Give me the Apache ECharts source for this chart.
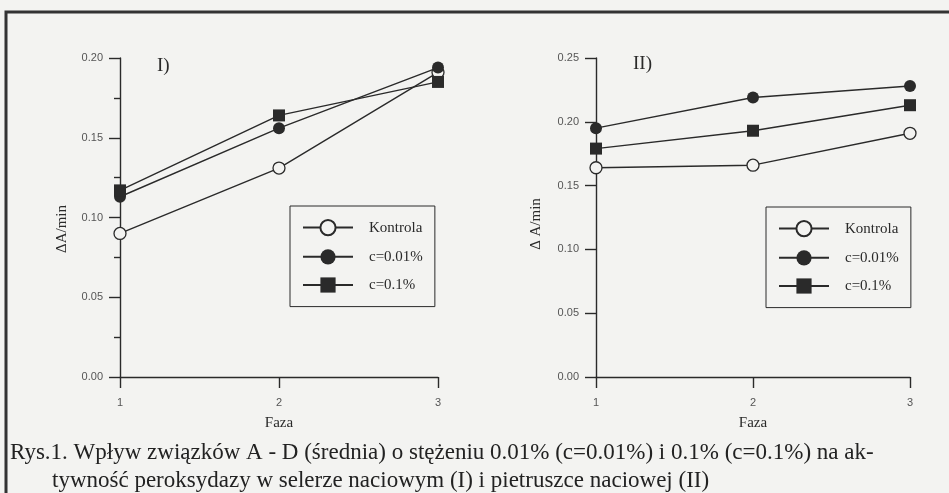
<!DOCTYPE html>
<html><head><meta charset="utf-8">
<script src="https://cdn.jsdelivr.net/npm/echarts@6/dist/echarts.min.js"></script>
<style>html,body{margin:0;padding:0;background:#f3f3f1}#c{width:949px;height:493px}</style>
</head><body><div id="c"></div>
<script>
const phases = [1, 2, 3];
const seriesNames = ['Kontrola', 'c=0.01%', 'c=0.1%'];
// Panel I – seler naciowy
const celeryKontrola = [0.090, 0.131, 0.191];
const celeryC001 = [0.113, 0.156, 0.194];
const celeryC01 = [0.117, 0.164, 0.185];
// Panel II – pietruszka naciowa
const parsleyKontrola = [0.164, 0.166, 0.191];
const parsleyC001 = [0.195, 0.219, 0.228];
const parsleyC01 = [0.179, 0.193, 0.213];
const panelLabels = ['I)', 'II)'];
const yLabel = ['ΔA/min', 'Δ A/min'];
const xLabel = 'Faza';
const caption1 = 'Rys.1. Wpływ związków A - D (średnia) o stężeniu 0.01% (c=0.01%) i 0.1% (c=0.1%) na ak-';
const caption2 = 'tywność peroksydazy w selerze naciowym (I) i pietruszce naciowej (II)';

const ink = '#2a2a2a';
const bg = '#f3f3f1';
const serif = '"Liberation Serif", "DejaVu Serif", serif';
const sans = '"Liberation Sans", Arial, sans-serif';

function pairs(vals) { return phases.map((p, i) => [p, vals[i]]); }

function mkSeries(name, vals, idx) {
  const open = name === 'Kontrola';
  return {
    name: name, type: 'line', xAxisIndex: idx, yAxisIndex: idx,
    data: pairs(vals),
    symbol: name === 'c=0.1%' ? 'rect' : 'circle',
    symbolSize: 12,
    showAllSymbol: true,
    lineStyle: { color: ink, width: 1.4 },
    itemStyle: { color: open ? bg : ink, borderColor: ink, borderWidth: open ? 1.3 : 0 },
    emphasis: { disabled: true },
    animation: false
  };
}

function mkX(idx) {
  return {
    type: 'value', gridIndex: idx, min: 1, max: 3, interval: 1,
    name: xLabel, nameLocation: 'middle', nameGap: 39,
    nameTextStyle: { fontFamily: serif, fontSize: 15, color: ink },
    axisLine: { lineStyle: { color: ink, width: 1.4 } },
    axisTick: { show: true, inside: false, length: 11, lineStyle: { color: ink, width: 1.4 } },
    axisLabel: { fontFamily: sans, fontSize: 11, color: '#555', margin: 20 },
    splitLine: { show: false }
  };
}

function mkY(idx, max, minor) {
  return {
    type: 'value', gridIndex: idx, min: 0, max: max, interval: 0.05,
    axisLine: { show: true, lineStyle: { color: ink, width: 1.4 } },
    axisTick: { show: true, inside: false, length: 11, lineStyle: { color: ink, width: 1.4 } },
    minorTick: { show: minor, splitNumber: 2, length: 6, lineStyle: { color: ink, width: 1.4 } },
    axisLabel: { fontFamily: sans, fontSize: 11, color: '#555', margin: 17, formatter: v => v.toFixed(2) },
    splitLine: { show: false }
  };
}

function mkLegend(left, top) {
  return {
    orient: 'vertical', left: left, top: top,
    data: seriesNames,
    itemWidth: 50, itemHeight: 19, itemGap: 13,
    padding: [13, 12, 14, 12],
    borderColor: ink, borderWidth: 1,
    textStyle: { fontFamily: serif, fontSize: 15, color: ink, padding: [0, 0, 0, 11] },
    selectedMode: false
  };
}

const chart = echarts.init(document.getElementById('c'), null, { renderer: 'canvas' });
chart.setOption({
  backgroundColor: bg,
  animation: false,
  grid: [
    { left: 120, top: 58, width: 318, height: 319 },
    { left: 596, top: 58, width: 314, height: 319 }
  ],
  xAxis: [mkX(0), mkX(1)],
  yAxis: [mkY(0, 0.2, true), mkY(1, 0.25, false)],
  legend: [mkLegend(290, 206), mkLegend(766, 207)],
  series: [
    mkSeries(seriesNames[0], celeryKontrola, 0),
    mkSeries(seriesNames[1], celeryC001, 0),
    mkSeries(seriesNames[2], celeryC01, 0),
    mkSeries(seriesNames[0], parsleyKontrola, 1),
    mkSeries(seriesNames[1], parsleyC001, 1),
    mkSeries(seriesNames[2], parsleyC01, 1)
  ],
  graphic: [
    { type: 'rect', shape: { x: 6, y: 12, width: 1000, height: 600 }, style: { fill: null, stroke: '#333', lineWidth: 3 }, silent: true },
    { type: 'text', x: 62, y: 229, rotation: Math.PI / 2, style: { text: yLabel[0], font: '15px ' + serif, fill: ink, align: 'center', verticalAlign: 'middle' } },
    { type: 'text', x: 536, y: 224, rotation: Math.PI / 2, style: { text: yLabel[1], font: '15px ' + serif, fill: ink, align: 'center', verticalAlign: 'middle' } },
    { type: 'text', x: 157, y: 66, style: { text: panelLabels[0], font: '19px ' + serif, fill: ink, verticalAlign: 'middle' } },
    { type: 'text', x: 633, y: 64, style: { text: panelLabels[1], font: '19px ' + serif, fill: ink, verticalAlign: 'middle' } },
    { type: 'text', x: 10, y: 453, style: { text: caption1, font: '23px ' + serif, fill: '#222', verticalAlign: 'middle' } },
    { type: 'text', x: 52, y: 481, style: { text: caption2, font: '23px ' + serif, fill: '#222', verticalAlign: 'middle' } }
  ]
});
</script></body></html>
